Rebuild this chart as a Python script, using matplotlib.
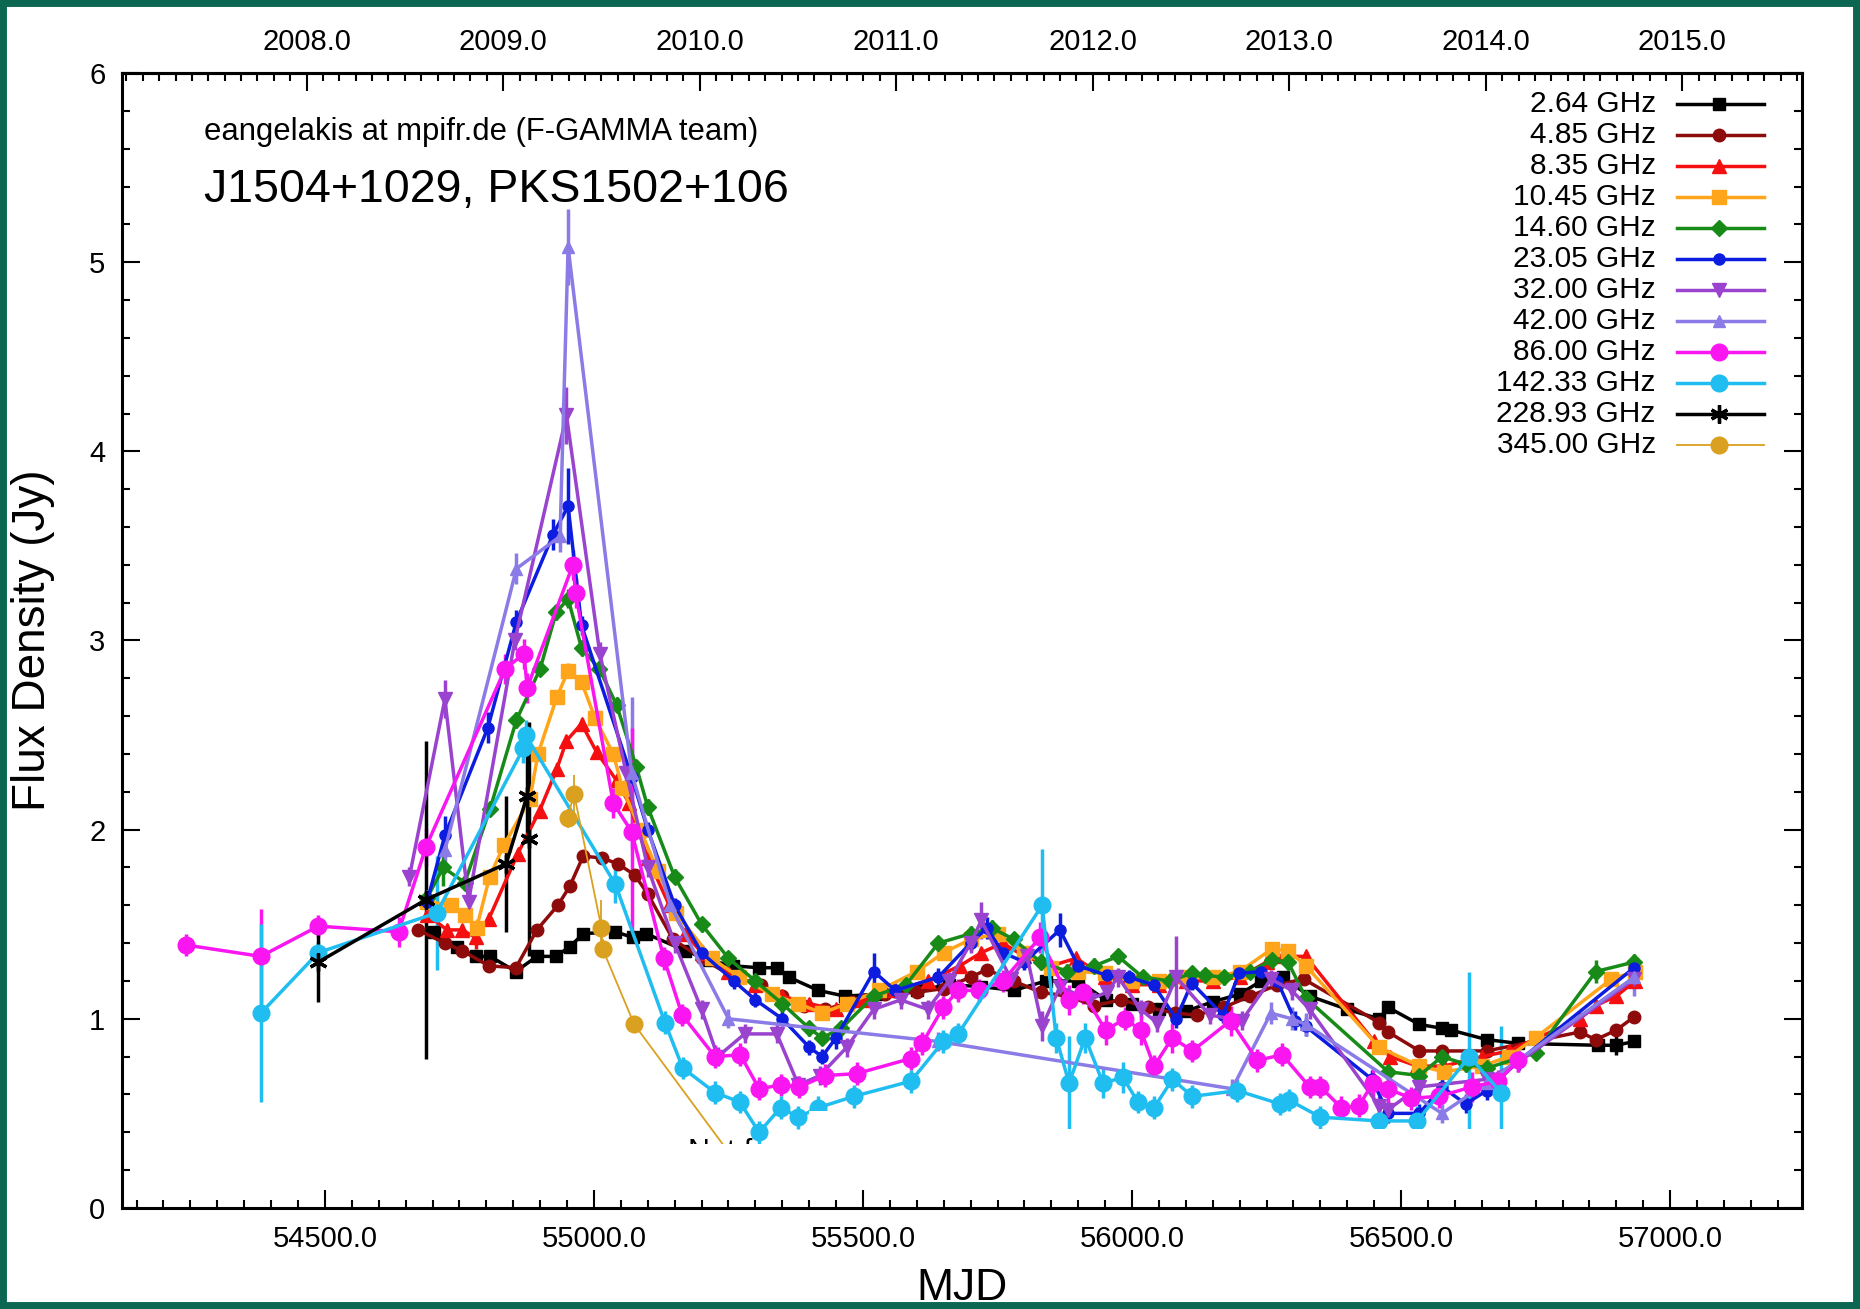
import matplotlib
matplotlib.use('Agg')
import matplotlib.pyplot as plt

from matplotlib.lines import Line2D
from matplotlib.patches import Rectangle
from matplotlib.ticker import FormatStrFormatter, MultipleLocator

plt.rcParams['font.family'] = ['Liberation Sans', 'DejaVu Sans']

# ---- data (MJD, flux density in Jy, error) ----
MJD_2_64 = [54702, 54745, 54780, 54807, 54855, 54894, 54929, 54955, 54980, 55040, 55072, 55097,
            55170, 55214, 55258, 55307, 55340, 55362, 55417, 55466, 55530, 55600, 55660, 55720,
            55780, 55840, 55900, 55951, 56000, 56050, 56100, 56150, 56200, 56240, 56280, 56330,
            56400, 56459, 56476, 56534, 56576, 56593, 56659, 56718, 56866, 56900, 56933]
FLUX_2_64 = [1.46, 1.38, 1.33, 1.33, 1.25, 1.33, 1.33, 1.38, 1.45, 1.46, 1.43, 1.45,
             1.36, 1.31, 1.28, 1.27, 1.27, 1.22, 1.15, 1.12, 1.13, 1.15, 1.18, 1.17,
             1.15, 1.20, 1.20, 1.10, 1.08, 1.05, 1.04, 1.09, 1.13, 1.20, 1.22, 1.12,
             1.05, 1.00, 1.06, 0.97, 0.95, 0.94, 0.89, 0.87, 0.86, 0.86, 0.88]
ERR_2_64 = [0.02, 0.02, 0.02, 0.02, 0.02, 0.02, 0.02, 0.02, 0.02, 0.02, 0.02, 0.02,
            0.02, 0.02, 0.02, 0.02, 0.02, 0.02, 0.02, 0.02, 0.02, 0.02, 0.02, 0.02,
            0.02, 0.02, 0.02, 0.02, 0.02, 0.02, 0.02, 0.02, 0.02, 0.02, 0.02, 0.02,
            0.02, 0.02, 0.02, 0.02, 0.02, 0.02, 0.02, 0.02, 0.02, 0.05, 0.02]

MJD_4_85 = [54673, 54723, 54755, 54805, 54855, 54894, 54933, 54955, 54980, 55015, 55044, 55076,
            55100, 55147, 55200, 55260, 55310, 55350, 55390, 55430, 55480, 55540, 55600, 55650,
            55700, 55730, 55780, 55830, 55880, 55930, 55980, 56030, 56080, 56120, 56170, 56220,
            56270, 56319, 56459, 56476, 56534, 56576, 56659, 56832, 56862, 56900, 56933]
FLUX_4_85 = [1.47, 1.40, 1.36, 1.28, 1.27, 1.47, 1.60, 1.70, 1.86, 1.85, 1.82, 1.76,
             1.66, 1.42, 1.32, 1.22, 1.18, 1.12, 1.07, 1.05, 1.09, 1.13, 1.14, 1.16,
             1.22, 1.26, 1.20, 1.14, 1.12, 1.07, 1.10, 1.06, 1.03, 1.02, 1.06, 1.12,
             1.18, 1.21, 0.98, 0.93, 0.83, 0.83, 0.83, 0.93, 0.89, 0.94, 1.01]
ERR_4_85 = [0.03, 0.02, 0.02, 0.02, 0.02, 0.02, 0.02, 0.02, 0.02, 0.02, 0.02, 0.02,
            0.02, 0.02, 0.02, 0.02, 0.02, 0.02, 0.02, 0.02, 0.02, 0.02, 0.02, 0.02,
            0.02, 0.02, 0.02, 0.02, 0.02, 0.02, 0.02, 0.02, 0.02, 0.02, 0.02, 0.02,
            0.02, 0.02, 0.02, 0.02, 0.02, 0.02, 0.02, 0.02, 0.02, 0.02, 0.02]

MJD_8_35 = [54690, 54727, 54755, 54780, 54805, 54858, 54899, 54931, 54949, 54977, 55005, 55042,
            55065, 55100, 55140, 55170, 55200, 55250, 55300, 55350, 55400, 55450, 55500, 55560,
            55620, 55680, 55720, 55760, 55800, 55850, 55896, 55950, 56000, 56050, 56100, 56150,
            56200, 56250, 56280, 56323, 56450, 56480, 56530, 56580, 56650, 56700, 56832, 56862,
            56900, 56935]
FLUX_8_35 = [1.55, 1.47, 1.47, 1.43, 1.53, 1.87, 2.10, 2.32, 2.47, 2.56, 2.41, 2.26,
             2.14, 1.85, 1.60, 1.45, 1.35, 1.25, 1.18, 1.12, 1.08, 1.05, 1.10, 1.15,
             1.20, 1.28, 1.35, 1.40, 1.33, 1.28, 1.32, 1.22, 1.18, 1.18, 1.20, 1.20,
             1.22, 1.30, 1.33, 1.33, 0.88, 0.80, 0.75, 0.75, 0.80, 0.83, 1.00, 1.07,
             1.12, 1.20]
ERR_8_35 = [0.03, 0.03, 0.03, 0.06, 0.03, 0.03, 0.03, 0.03, 0.03, 0.03, 0.03, 0.03,
            0.03, 0.03, 0.03, 0.03, 0.03, 0.03, 0.03, 0.03, 0.03, 0.03, 0.03, 0.03,
            0.03, 0.03, 0.03, 0.03, 0.03, 0.03, 0.03, 0.03, 0.03, 0.03, 0.03, 0.03,
            0.03, 0.03, 0.03, 0.03, 0.03, 0.03, 0.03, 0.03, 0.03, 0.03, 0.03, 0.03,
            0.03, 0.03]

MJD_10_45 = [54690, 54734, 54760, 54782, 54806, 54833, 54881, 54896, 54931, 54952, 54977, 55002,
             55036, 55053, 55086, 55119, 55152, 55219, 55270, 55330, 55380, 55424, 55470, 55530,
             55600, 55650, 55700, 55750, 55800, 55850, 55900, 55950, 56000, 56050, 56100, 56150,
             56200, 56260, 56290, 56323, 56459, 56534, 56580, 56650, 56700, 56750, 56891, 56935]
FLUX_10_45 = [1.62, 1.60, 1.55, 1.48, 1.75, 1.92, 2.16, 2.40, 2.70, 2.84, 2.78, 2.59,
              2.40, 2.22, 2.00, 1.78, 1.56, 1.32, 1.22, 1.13, 1.08, 1.03, 1.08, 1.15,
              1.25, 1.35, 1.42, 1.45, 1.35, 1.27, 1.25, 1.24, 1.20, 1.20, 1.22, 1.22,
              1.25, 1.37, 1.36, 1.28, 0.85, 0.75, 0.72, 0.75, 0.80, 0.90, 1.21, 1.25]
ERR_10_45 = [0.03, 0.03, 0.03, 0.05, 0.03, 0.03, 0.03, 0.03, 0.03, 0.04, 0.03, 0.03,
             0.03, 0.03, 0.03, 0.03, 0.03, 0.03, 0.03, 0.03, 0.03, 0.03, 0.03, 0.03,
             0.03, 0.03, 0.03, 0.03, 0.03, 0.03, 0.03, 0.03, 0.03, 0.03, 0.03, 0.03,
             0.03, 0.03, 0.03, 0.03, 0.03, 0.03, 0.03, 0.03, 0.03, 0.03, 0.03, 0.03]

MJD_14_60 = [54690, 54720, 54760, 54807, 54856, 54900, 54930, 54952, 54977, 55010, 55042, 55079,
             55100, 55150, 55200, 55250, 55300, 55350, 55400, 55424, 55460, 55520, 55580, 55640,
             55700, 55740, 55780, 55830, 55880, 55930, 55974, 56020, 56070, 56111, 56135, 56170,
             56220, 56260, 56290, 56323, 56476, 56534, 56576, 56620, 56660, 56750, 56862, 56933]
FLUX_14_60 = [1.64, 1.80, 1.72, 2.11, 2.58, 2.85, 3.15, 3.22, 2.96, 2.85, 2.66, 2.33,
              2.12, 1.75, 1.50, 1.32, 1.20, 1.08, 0.95, 0.90, 0.95, 1.12, 1.18, 1.40,
              1.45, 1.48, 1.42, 1.30, 1.25, 1.28, 1.33, 1.22, 1.20, 1.24, 1.23, 1.22,
              1.25, 1.31, 1.30, 1.11, 0.72, 0.70, 0.80, 0.76, 0.74, 0.82, 1.25, 1.30]
ERR_14_60 = [0.04, 0.10, 0.04, 0.04, 0.04, 0.04, 0.04, 0.05, 0.04, 0.04, 0.04, 0.04,
             0.04, 0.04, 0.04, 0.04, 0.04, 0.04, 0.04, 0.04, 0.04, 0.04, 0.04, 0.04,
             0.04, 0.04, 0.04, 0.04, 0.04, 0.04, 0.04, 0.04, 0.04, 0.04, 0.04, 0.04,
             0.04, 0.04, 0.04, 0.04, 0.04, 0.04, 0.04, 0.04, 0.04, 0.04, 0.06, 0.04]

MJD_23_05 = [54690, 54723, 54803, 54856, 54924, 54952, 54977, 55070, 55100, 55150, 55200, 55260,
             55300, 55350, 55400, 55424, 55450, 55520, 55560, 55640, 55700, 55730, 55760, 55800,
             55866, 55900, 55953, 55994, 56040, 56082, 56111, 56169, 56199, 56240, 56270, 56303,
             56323, 56446, 56476, 56534, 56576, 56620, 56659, 56720, 56933]
FLUX_23_05 = [1.62, 1.97, 2.54, 3.10, 3.56, 3.71, 3.08, 2.28, 2.00, 1.60, 1.35, 1.20,
              1.10, 1.00, 0.85, 0.80, 0.90, 1.25, 1.15, 1.22, 1.40, 1.48, 1.35, 1.30,
              1.47, 1.28, 1.23, 1.22, 1.18, 1.00, 1.19, 1.02, 1.24, 1.25, 1.20, 0.99,
              0.96, 0.68, 0.50, 0.50, 0.64, 0.55, 0.62, 0.78, 1.27]
ERR_23_05 = [0.04, 0.10, 0.08, 0.06, 0.08, 0.20, 0.05, 0.05, 0.04, 0.04, 0.04, 0.04,
             0.04, 0.04, 0.04, 0.04, 0.06, 0.10, 0.04, 0.05, 0.04, 0.06, 0.04, 0.04,
             0.09, 0.04, 0.04, 0.04, 0.04, 0.05, 0.04, 0.04, 0.04, 0.04, 0.04, 0.05,
             0.05, 0.05, 0.05, 0.05, 0.05, 0.05, 0.05, 0.05, 0.06]

MJD_32_00 = [54657, 54723, 54767, 54853, 54949, 55011, 55060, 55100, 55150, 55200, 55230, 55280,
             55340, 55380, 55420, 55470, 55520, 55570, 55620, 55660, 55700, 55720, 55775, 55805,
             55833, 55866, 55920, 55953, 55974, 56016, 56046, 56082, 56144, 56204, 56258, 56297,
             56330, 56459, 56476, 56534, 56659, 56718, 56933]
FLUX_32_00 = [1.75, 2.69, 1.62, 3.00, 4.19, 2.93, 2.30, 1.80, 1.40, 1.05, 0.80, 0.92,
              0.92, 0.65, 0.70, 0.85, 1.05, 1.10, 1.05, 1.20, 1.40, 1.52, 1.21, 1.33,
              0.96, 1.17, 1.10, 1.14, 1.22, 1.05, 0.98, 1.22, 1.02, 0.99, 1.21, 1.15,
              1.05, 0.54, 0.52, 0.64, 0.68, 0.77, 1.21]
ERR_32_00 = [0.05, 0.10, 0.05, 0.05, 0.15, 0.06, 0.05, 0.05, 0.05, 0.05, 0.05, 0.05,
             0.05, 0.05, 0.05, 0.05, 0.05, 0.05, 0.05, 0.05, 0.05, 0.10, 0.05, 0.05,
             0.08, 0.05, 0.05, 0.05, 0.05, 0.05, 0.05, 0.22, 0.05, 0.05, 0.05, 0.05,
             0.05, 0.05, 0.05, 0.05, 0.05, 0.05, 0.05]

MJD_42_00 = [54723, 54856, 54937, 54952, 55070, 55142, 55250, 55640, 56186, 56258, 56297, 56323,
             56576, 56659, 56933]
FLUX_42_00 = [1.89, 3.38, 3.55, 5.08, 2.30, 1.60, 1.00, 0.88, 0.63, 1.03, 1.00, 0.97,
              0.50, 0.66, 1.22]
ERR_42_00 = [0.08, 0.08, 0.08, 0.20, 0.40, 0.06, 0.05, 0.05, 0.05, 0.06, 0.06, 0.06,
             0.05, 0.06, 0.10]

MJD_86_00 = [54242, 54381, 54488, 54637, 54688, 54835, 54870, 54876, 54961, 54966, 55036, 55070,
             55130, 55164, 55225, 55272, 55307, 55347, 55382, 55430, 55488, 55589, 55610, 55649,
             55677, 55715, 55760, 55829, 55883, 55908, 55951, 55987, 56016, 56041, 56075, 56112,
             56183, 56233, 56279, 56330, 56350, 56389, 56422, 56447, 56475, 56519, 56570, 56632,
             56680, 56718]
FLUX_86_00 = [1.39, 1.33, 1.49, 1.46, 1.91, 2.85, 2.93, 2.75, 3.40, 3.25, 2.14, 1.99,
              1.32, 1.02, 0.80, 0.81, 0.63, 0.65, 0.64, 0.70, 0.71, 0.79, 0.87, 1.06,
              1.15, 1.15, 1.20, 1.43, 1.10, 1.14, 0.94, 1.00, 0.94, 0.75, 0.90, 0.83,
              0.99, 0.78, 0.81, 0.64, 0.64, 0.53, 0.54, 0.66, 0.63, 0.58, 0.59, 0.64,
              0.67, 0.78]
ERR_86_00 = [0.06, 0.25, 0.06, 0.08, 0.10, 0.08, 0.08, 0.08, 0.08, 0.08, 0.08, 0.55,
             0.06, 0.06, 0.06, 0.06, 0.06, 0.06, 0.06, 0.06, 0.06, 0.06, 0.06, 0.06,
             0.06, 0.06, 0.06, 0.08, 0.08, 0.06, 0.08, 0.06, 0.08, 0.06, 0.08, 0.06,
             0.08, 0.06, 0.06, 0.06, 0.06, 0.06, 0.06, 0.08, 0.08, 0.06, 0.06, 0.08,
             0.06, 0.06]

MJD_142_33 = [54381, 54488, 54708, 54869, 54873, 55040, 55132, 55165, 55225, 55271, 55307, 55347,
              55380, 55417, 55483, 55589, 55649, 55677, 55833, 55859, 55883, 55913, 55946, 55983,
              56011, 56041, 56075, 56112, 56196, 56275, 56292, 56350, 56459, 56530, 56627, 56686]
FLUX_142_33 = [1.03, 1.35, 1.56, 2.43, 2.50, 1.71, 0.98, 0.74, 0.61, 0.56, 0.40, 0.53,
               0.48, 0.53, 0.59, 0.67, 0.88, 0.92, 1.60, 0.90, 0.66, 0.90, 0.66, 0.69,
               0.56, 0.53, 0.68, 0.59, 0.62, 0.55, 0.57, 0.48, 0.46, 0.46, 0.80, 0.61]
ERR_142_33 = [0.47, 0.06, 0.30, 0.08, 0.08, 0.10, 0.06, 0.06, 0.06, 0.06, 0.06, 0.06,
              0.06, 0.06, 0.06, 0.06, 0.06, 0.06, 0.30, 0.08, 0.25, 0.08, 0.08, 0.08,
              0.06, 0.06, 0.06, 0.06, 0.06, 0.06, 0.06, 0.06, 0.08, 0.08, 0.45, 0.35]

MJD_228_93 = [54488, 54688, 54837, 54876, 54879]
FLUX_228_93 = [1.30, 1.63, 1.82, 2.18, 1.95]
ERR_228_93 = [0.21, 0.84, 0.36, 0.25, 0.62]

MJD_345_00 = [54951, 54963, 55014, 55016, 55075, 55275]
FLUX_345_00 = [2.06, 2.19, 1.48, 1.37, 0.97, 0.20]
ERR_345_00 = [0.05, 0.10, 0.15, 0.05, 0.04, 0.03]

LABELS = ['2.64 GHz', '4.85 GHz', '8.35 GHz', '10.45 GHz', '14.60 GHz', '23.05 GHz',
          '32.00 GHz', '42.00 GHz', '86.00 GHz', '142.33 GHz', '228.93 GHz', '345.00 GHz']

YEAR_TICKS = [2008, 2009, 2010, 2011, 2012, 2013, 2014, 2015]
MJD_2008 = 54466.0

ASTERISK = (6, 2, 0)

# (mjd, flux, err, colour, marker, markersize, linewidth)
SERIES = [
    (MJD_2_64, FLUX_2_64, ERR_2_64, '#000000', 's', 8.5, 2.5),
    (MJD_4_85, FLUX_4_85, ERR_4_85, '#8e0b0b', 'o', 9, 2.5),
    (MJD_8_35, FLUX_8_35, ERR_8_35, '#f41010', '^', 10, 2.5),
    (MJD_10_45, FLUX_10_45, ERR_10_45, '#ffa51c', 's', 9.5, 2.5),
    (MJD_14_60, FLUX_14_60, ERR_14_60, '#178a17', 'D', 8.5, 2.5),
    (MJD_23_05, FLUX_23_05, ERR_23_05, '#0c1de0', 'o', 8, 2.5),
    (MJD_32_00, FLUX_32_00, ERR_32_00, '#9a43cf', 'v', 10, 2.5),
    (MJD_42_00, FLUX_42_00, ERR_42_00, '#8a7be6', '^', 9, 2.5),
    (MJD_86_00, FLUX_86_00, ERR_86_00, '#fa16f0', 'o', 12, 2.5),
    (MJD_142_33, FLUX_142_33, ERR_142_33, '#20bdf0', 'o', 12, 2.5),
    (MJD_228_93, FLUX_228_93, ERR_228_93, '#000000', ASTERISK, 13, 2.5),
    (MJD_345_00, FLUX_345_00, ERR_345_00, '#daa020', 'o', 12, 1.3),
]


def mjd_to_year(mjd):
    return 2008.0 + (mjd - MJD_2008) / 365.25


def year_to_mjd(year):
    return MJD_2008 + (year - 2008.0) * 365.25


def plot_light_curve():
    fig = plt.figure(figsize=(18.6, 13.09), dpi=100)
    ax = fig.add_axes([0.0656, 0.0772, 0.9032, 0.867])

    for i, (mjd, flux, err, colour, marker, ms, lw) in enumerate(SERIES):
        ax.errorbar(mjd, flux, yerr=err, color=colour, marker=marker, ms=ms, lw=lw,
                    elinewidth=lw, capsize=0, mec=colour, mew=2.4 if marker == ASTERISK else 1,
                    zorder=2 + i * 0.01)

    # white boxes that hide the lower part of the curves in the original
    ax.text(55175, 0.25, 'Not for analysis', fontsize=22, zorder=2.25)
    boxes = [(54165, 55400, 0.10, 0.34), (55400, 55605, 0.045, 0.51), (55605, 55700, 0.045, 0.34),
             (55700, 56300, 0.045, 0.42), (56300, 57205, 0.10, 0.42)]
    for x0, x1, y0, y1 in boxes:
        ax.add_patch(Rectangle((x0, y0), x1 - x0, y1 - y0, facecolor='white',
                               edgecolor='none', zorder=2.3))

    ax.set_xlim(54123, 57245)
    ax.set_ylim(0, 6)
    ax.set_axisbelow(False)
    ax.xaxis.set_major_locator(MultipleLocator(500))
    ax.xaxis.set_minor_locator(MultipleLocator(50))
    ax.xaxis.set_major_formatter(FormatStrFormatter('%.1f'))
    ax.yaxis.set_major_locator(MultipleLocator(1))
    ax.yaxis.set_minor_locator(MultipleLocator(0.2))
    ax.tick_params(which='both', direction='in', width=1.5, top=False, right=True, labelsize=21)
    ax.tick_params(which='major', length=13, pad=12)
    ax.tick_params(which='minor', length=6)
    for spine in ax.spines.values():
        spine.set_linewidth(2.2)

    top = ax.secondary_xaxis('top', functions=(mjd_to_year, year_to_mjd))
    top.set_xticks(YEAR_TICKS)
    top.xaxis.set_minor_locator(MultipleLocator(1 / 12))
    top.xaxis.set_major_formatter(FormatStrFormatter('%.1f'))
    top.tick_params(which='both', direction='in', width=1.5, labelsize=21)
    top.tick_params(which='major', length=13, pad=12)
    top.tick_params(which='minor', length=6)
    top.spines['top'].set_linewidth(2.2)

    ax.set_xlabel('MJD', fontsize=32, va='center')
    ax.xaxis.set_label_coords(0.5, -0.071)
    ax.set_ylabel('Flux Density (Jy)', fontsize=33, va='center')
    ax.yaxis.set_label_coords(-0.053, 0.5)

    ax.text(0.0488, 0.941, 'eangelakis at mpifr.de (F-GAMMA team)', transform=ax.transAxes,
            fontsize=22.3, va='baseline')
    ax.text(0.0488, 0.886, 'J1504+1029, PKS1502+106', transform=ax.transAxes,
            fontsize=33.5, va='baseline')

    # legend drawn by hand: gnuplot style, text right aligned, sample on the right
    for i, (label, (_, _, _, colour, marker, ms, lw)) in enumerate(zip(LABELS, SERIES)):
        y = (1208 - (104.4 + 31 * i)) / 1135
        ax.text(0.913, y, label, transform=ax.transAxes, ha='right', va='center', fontsize=21.5)
        ax.add_line(Line2D([0.9256, 0.9774], [y, y], transform=ax.transAxes, color=colour, lw=lw))
        ax.add_line(Line2D([0.9506], [y], transform=ax.transAxes, color=colour, marker=marker,
                           ms=ms, mec=colour, mew=2.4 if marker == ASTERISK else 1))

    fig.add_artist(Rectangle((0, 0), 1, 1, transform=fig.transFigure, fill=False,
                             edgecolor='#0b6652', lw=10))
    fig.savefig('out.png', dpi=100)


if __name__ == '__main__':
    plot_light_curve()
